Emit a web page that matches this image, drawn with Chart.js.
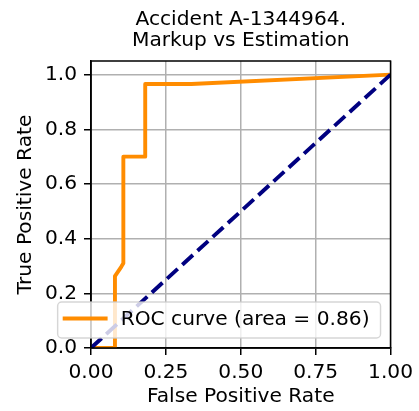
<!DOCTYPE html>
<html>
<head>
<meta charset="utf-8">
<script src="https://cdn.jsdelivr.net/npm/chart.js@4/dist/chart.umd.min.js"></script>
<style>
  html, body { margin: 0; padding: 0; background: #fff; }
  #wrap { width: 419px; height: 411px; }
</style>
</head>
<body>
<div id="wrap"><canvas id="roc" width="419" height="411"></canvas></div>
<script>
/* ROC curve, matplotlib look */

const titleLines = ["Accident A-1344964.", "Markup vs Estimation"];
const rocLabel = "ROC curve (area = 0.86)";

// curve
const fpr = [0, 0.08, 0.08, 0.101, 0.108, 0.108, 0.181, 0.181, 0.335, 1.0];
const tpr = [0, 0, 0.263, 0.297, 0.31, 0.70, 0.70, 0.966, 0.966, 1.0];

// chance line
const chanceX = [0, 1];
const chanceY = [0, 1];

const xTicks = [0, 0.25, 0.5, 0.75, 1.0];
const yTicks = [0, 0.2, 0.4, 0.6, 0.8, 1.0];

const FONT = "DejaVu Sans";
const FS = 20.2;

Chart.defaults.font.family = FONT;
Chart.defaults.font.size = FS;
Chart.defaults.color = "#000";

const frameAndLegend = {
  id: "frameAndLegend",
  afterDatasetsDraw(chart) {
    const { ctx, chartArea: a } = chart;
    ctx.save();

    // spines on top of the lines
    ctx.strokeStyle = "#000";
    ctx.lineWidth = 1.5;
    ctx.strokeRect(a.left, a.top, a.right - a.left, a.bottom - a.top);

    // legend, lower right
    ctx.font = `${FS}px "${FONT}"`;
    const textW = ctx.measureText(rocLabel).width;
    const R = a.right - 10;
    const B = a.bottom - 10;
    const T = B - 36;
    const L = R - 9 - textW - 65;
    const rad = 4;

    ctx.beginPath();
    ctx.moveTo(L + rad, T);
    ctx.arcTo(R, T, R, B, rad);
    ctx.arcTo(R, B, L, B, rad);
    ctx.arcTo(L, B, L, T, rad);
    ctx.arcTo(L, T, R, T, rad);
    ctx.closePath();
    ctx.fillStyle = "rgba(255,255,255,0.8)";
    ctx.fill();
    ctx.strokeStyle = "rgba(204,204,204,0.8)";
    ctx.lineWidth = 1.4;
    ctx.stroke();

    const midY = T + 16.5;
    ctx.beginPath();
    ctx.moveTo(L + 7, midY);
    ctx.lineTo(L + 48, midY);
    ctx.strokeStyle = "#ff8c00";
    ctx.lineWidth = 3.9;
    ctx.lineCap = "square";
    ctx.stroke();

    ctx.fillStyle = "#000";
    ctx.textBaseline = "middle";
    ctx.textAlign = "left";
    ctx.fillText(rocLabel, L + 63, midY + 1);

    ctx.restore();
  },
};

function buildRocChart(ctx) {
  const rocPoints = fpr.map((x, i) => ({ x, y: tpr[i] }));
  const chancePoints = chanceX.map((x, i) => ({ x, y: chanceY[i] }));

  const gridOpts = {
    color: "#b0b0b0",
    lineWidth: 1.5,
    tickColor: "#000",
    tickWidth: 1.5,
    tickLength: 7,
  };

  return new Chart(ctx, {
    type: "line",
    data: {
      datasets: [
        {
          label: rocLabel,
          data: rocPoints,
          borderColor: "#ff8c00",
          borderWidth: 3.9,
          borderJoinStyle: "round",
          pointRadius: 0,
          tension: 0,
          order: 2,
        },
        {
          label: "chance",
          data: chancePoints,
          borderColor: "#000080",
          borderWidth: 3.9,
          borderDash: [14.4, 6.2],
          pointRadius: 0,
          tension: 0,
          order: 1,
        },
      ],
    },
    options: {
      responsive: false,
      animation: false,
      layout: { padding: { left: 0, right: 25, top: 0, bottom: 0 } },
      plugins: {
        legend: { display: false },
        tooltip: { enabled: false },
        title: {
          display: true,
          fullSize: false,
          text: titleLines,
          color: "#000",
          font: { size: FS, weight: "normal", lineHeight: 21.3 / FS },
          padding: { top: 9, bottom: 9.4 },
        },
      },
      scales: {
        x: {
          type: "linear",
          min: 0,
          max: 1,
          grid: gridOpts,
          border: { display: true, color: "#000", width: 1.5 },
          afterBuildTicks: (s) => { s.ticks = xTicks.map((v) => ({ value: v })); },
          afterFit: (s) => { s.height = 63; },
          ticks: {
            padding: 6,
            maxRotation: 0,
            callback: (v) => Number(v).toFixed(2),
          },
          title: {
            display: true,
            text: "False Positive Rate",
            font: { size: FS },
            padding: { top: 0, bottom: 2 },
          },
        },
        y: {
          type: "linear",
          min: 0,
          max: 1.05,
          grid: gridOpts,
          border: { display: true, color: "#000", width: 1.5 },
          afterBuildTicks: (s) => { s.ticks = yTicks.map((v) => ({ value: v })); },
          afterFit: (s) => { s.width = 91; },
          ticks: {
            padding: 7,
            callback: (v) => Number(v).toFixed(1),
          },
          title: {
            display: true,
            text: "True Positive Rate",
            font: { size: FS },
            padding: { top: 14, bottom: 0 },
          },
        },
      },
    },
    plugins: [frameAndLegend],
  });
}

document.addEventListener("DOMContentLoaded", () => {
  const ctx = document.getElementById("roc").getContext("2d");
  try {
    buildRocChart(ctx);
  } catch (err) {
    console.error("Error building chart", err);
  }
});
</script>
</body>
</html>
